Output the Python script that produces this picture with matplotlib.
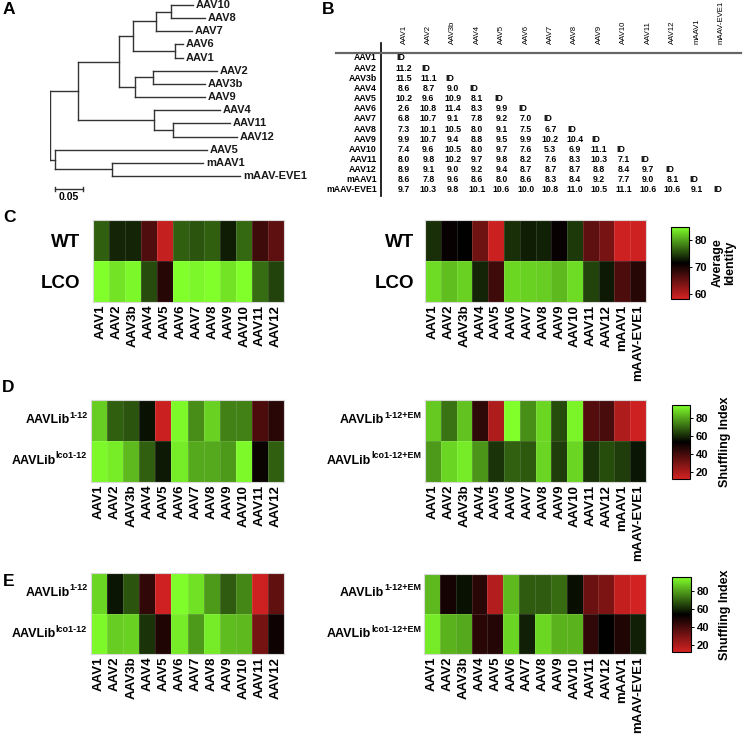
import numpy as np
import matplotlib
matplotlib.use("Agg")
import matplotlib.pyplot as plt
from matplotlib.colors import LinearSegmentedColormap

plt.rcParams['font.family'] = ['Liberation Sans', 'DejaVu Sans']

# ---------------- data ----------------
# phylogenetic tree (panel A), branch lengths
newick = ("((((((AAV10:0.039,AAV8:0.061):0.027,AAV7:0.064):0.041,"
          "(AAV6:0.014,AAV1:0.014):0.075):0.025,"
          "((AAV2:0.114,AAV3b:0.093):0.032,AAV9:0.125):0.029):0.073,"
          "(AAV4:0.118,(AAV11:0.102,AAV12:0.114):0.034):0.136):0.05,"
          "(AAV5:0.271,(mAAV1:0.163,mAAV-EVE1:0.229):0.102):0.009);")

# distance table (panel B)
table_names = ["AAV1", "AAV2", "AAV3b", "AAV4", "AAV5", "AAV6", "AAV7", "AAV8",
               "AAV9", "AAV10", "AAV11", "AAV12", "mAAV1", "mAAV-EVE1"]
dist = [
    [],
    [11.2],
    [11.5, 11.1],
    [8.6, 8.7, 9.0],
    [10.2, 9.6, 10.9, 8.1],
    [2.6, 10.8, 11.4, 8.3, 9.9],
    [6.8, 10.7, 9.1, 7.8, 9.2, 7.0],
    [7.3, 10.1, 10.5, 8.0, 9.1, 7.5, 6.7],
    [9.9, 10.7, 9.4, 8.8, 9.5, 9.9, 10.2, 10.4],
    [7.4, 9.6, 10.5, 8.0, 9.7, 7.6, 5.3, 6.9, 11.1],
    [8.0, 9.8, 10.2, 9.7, 9.8, 8.2, 7.6, 8.3, 10.3, 7.1],
    [8.9, 9.1, 9.0, 9.2, 9.4, 8.7, 8.7, 8.7, 8.8, 8.4, 9.7],
    [8.6, 7.8, 9.6, 8.6, 8.0, 8.6, 8.3, 8.4, 9.2, 7.7, 9.0, 8.1],
    [9.7, 10.3, 9.8, 10.1, 10.6, 10.0, 10.8, 11.0, 10.5, 11.1, 10.6, 10.6, 9.1],
]

serotypes12 = table_names[:12]
serotypes14 = table_names

# panel C: average identity
c_left_wt = [76.5, 73.5, 73.5, 66.5, 59.0, 76.5, 76.0, 76.5, 73.0, 77.0, 67.5, 65.5]
c_left_lco = [85.0, 83.5, 84.5, 75.5, 69.0, 85.0, 84.5, 85.0, 83.5, 85.0, 77.3, 75.0]
c_right_wt = [74.0, 71.0, 71.5, 64.5, 58.7, 74.0, 73.0, 73.2, 71.0, 74.5, 65.5, 64.0, 58.5, 58.5]
c_right_lco = [83.0, 81.6, 82.5, 73.5, 67.5, 82.8, 82.5, 82.3, 81.3, 83.0, 75.0, 72.8, 66.6, 69.0]

# panel D/E: shuffling index
d_left_1 = [86.7, 68.9, 67.2, 56.4, 14.0, 94.0, 76.3, 87.5, 74.3, 74.3, 38.6, 45.2]
d_left_2 = [94.0, 92.0, 83.4, 69.0, 57.6, 91.7, 81.0, 81.0, 78.4, 94.0, 51.5, 69.0]
d_right_1 = [86.0, 72.0, 85.0, 44.4, 19.5, 95.0, 76.7, 88.4, 66.0, 93.3, 37.0, 39.4, 19.5, 13.3]
d_right_2 = [78.4, 88.0, 91.7, 77.6, 61.8, 69.3, 68.0, 88.0, 63.5, 88.0, 61.8, 66.0, 63.5, 56.8]
e_left_1 = [88.0, 57.0, 67.2, 44.0, 13.0, 94.5, 90.0, 78.4, 68.4, 75.5, 13.5, 34.4]
e_left_2 = [94.0, 86.7, 87.5, 61.8, 47.3, 91.7, 78.4, 91.7, 84.2, 83.4, 30.7, 50.6]
e_right_1 = [83.4, 49.3, 56.4, 45.2, 18.2, 83.4, 68.4, 68.4, 71.0, 56.0, 32.7, 29.4, 15.3, 12.5]
e_right_2 = [91.7, 82.6, 81.0, 45.2, 46.5, 88.0, 58.5, 88.4, 82.6, 82.6, 44.0, 53.5, 47.3, 58.5]

# ---------------- figure ----------------
W, H = 744, 741
fig = plt.figure(figsize=(W / 100, H / 100), dpi=100)


def px_axes(left, top, width, height):
    return fig.add_axes([left / W, 1 - (top + height) / H, width / W, height / H])


ov = px_axes(0, 0, W, H)
ov.set_xlim(0, W)
ov.set_ylim(H, 0)
ov.axis('off')

cmap = LinearSegmentedColormap.from_list('rg', ['#d42222', '#000000', '#80ff2a'])

# panel letters
for letter, x, y in [("A", 3, 10), ("B", 322, 10), ("C", 3, 218), ("D", 2, 388), ("E", 3, 581)]:
    ov.text(x, y, letter, fontsize=12.5, fontweight='bold', ha='left', va='center')


# ---------------- A: tree ----------------
def parse(s, i=0):
    children = []
    name = ''
    if s[i] == '(':
        i += 1
        while True:
            child, i = parse(s, i)
            children.append(child)
            if s[i] == ',':
                i += 1
            else:
                i += 1
                break
    else:
        j = i
        while s[j] not in ':,);':
            j += 1
        name = s[i:j]
        i = j
    length = 0.0
    if s[i] == ':':
        j = i + 1
        while s[j] not in ',);':
            j += 1
        length = float(s[i + 1:j])
        i = j
    return {'name': name, 'len': length, 'children': children}, i


root, _ = parse(newick)
leaf_count = [0]


def layout(node, x0):
    node['x'] = x0 + node['len']
    if node['children']:
        for c in node['children']:
            layout(c, node['x'])
        node['y'] = (node['children'][0]['y'] + node['children'][-1]['y']) / 2
    else:
        node['y'] = leaf_count[0]
        leaf_count[0] += 1


layout(root, 0.0)

step = (176 - 5) / 13
ax_t = px_axes(50, 0, 300, 205)
ax_t.set_xlim(0, 300 / 560)
ax_t.set_ylim((205 - 5) / step, -5 / step)
ax_t.axis('off')
lc = '0.2'


def draw(node):
    if node['children']:
        ys = [c['y'] for c in node['children']]
        ax_t.plot([node['x'], node['x']], [min(ys), max(ys)], color=lc, lw=1)
        for c in node['children']:
            ax_t.plot([node['x'], c['x']], [c['y'], c['y']], color=lc, lw=1)
            draw(c)
    else:
        ax_t.text(node['x'] + 0.005, node['y'], node['name'], fontsize=8,
                  fontweight='bold', va='center', ha='left', color='0.1')


draw(root)
yb = (189 - 5) / step
ax_t.plot([0.009, 0.059], [yb, yb], color=lc, lw=1)
for xe in [0.009, 0.059]:
    ax_t.plot([xe, xe], [yb - 0.12, yb + 0.12], color=lc, lw=1)
ax_t.text(0.034, yb + 0.25, "0.05", fontsize=7.5, fontweight='bold', ha='center', va='top')

# ---------------- B: table ----------------
col_x = [404 + 24.4 * j for j in range(len(table_names))]
row_y = [58 + 10.15 * i for i in range(len(table_names))]
for j, nm in enumerate(table_names):
    ov.text(col_x[j], 44, nm, rotation=90, ha='center', va='bottom', fontsize=5.6)
for i, nm in enumerate(table_names):
    ov.text(377, row_y[i], nm, ha='right', va='center', fontsize=6.3, fontweight='bold')
    for j, v in enumerate(dist[i]):
        ov.text(col_x[j], row_y[i], f"{v:.1f}", ha='center', va='center',
                fontsize=6.3, fontweight='bold')
    ov.text(col_x[i] - 3, row_y[i], "ID", ha='center', va='center', fontsize=6.3, fontweight='bold')
ov.plot([381, 381], [43, 196], color='k', lw=1.2)
ov.plot([336, 741], [53, 53], color='0.4', lw=1.6)


# ---------------- heatmaps ----------------
def heat(box, rows, labels, vmin, vmax):
    ax = px_axes(*box)
    data = np.array(rows)
    m = ax.pcolormesh(data, cmap=cmap, vmin=vmin, vmax=vmax,
                      edgecolors=(1, 1, 1, 0.12), linewidth=0.6)
    ax.set_xlim(0, data.shape[1])
    ax.set_ylim(data.shape[0], 0)
    ax.set_xticks(np.arange(data.shape[1]) + 0.5)
    ax.set_xticklabels(labels, rotation=90, fontsize=9.5, fontweight='bold')
    ax.set_yticks([])
    ax.tick_params(length=0, pad=2)
    for s in ax.spines.values():
        s.set_color('#d8d8d8')
        s.set_linewidth(0.8)
    return ax, m


def cbar(m, box, ticks, label, ly):
    cax = px_axes(*box)
    cb = fig.colorbar(m, cax=cax, ticks=ticks)
    cb.outline.set_linewidth(0.8)
    cax.tick_params(labelsize=8, length=2, width=0.7, pad=2)
    for t in cax.get_yticklabels():
        t.set_fontweight('bold')
    ov.text(box[0] + 53, ly, label, rotation=90, ha='center', va='center',
            fontsize=9, fontweight='bold', linespacing=1.0)


# C
ax, m = heat((93, 220, 191, 82), [c_left_wt, c_left_lco], serotypes12, 58, 85)
ax.set_yticks([0.5, 1.5])
ax.set_yticklabels(["WT", "LCO"], fontsize=13.5, fontweight='bold')
ax.tick_params(axis='y', pad=9)
ax, m = heat((425, 220, 221, 82), [c_right_wt, c_right_lco], serotypes14, 58, 85)
ax.set_yticks([0.5, 1.5])
ax.set_yticklabels(["WT", "LCO"], fontsize=13.5, fontweight='bold')
ax.tick_params(axis='y', pad=8)
cbar(m, (671, 227, 18, 72), [60, 70, 80], "Average\nIdentity", 263)

# D
ax, m = heat((91, 400, 193, 82), [d_left_1, d_left_2], serotypes12, 12, 95)
ax, m = heat((425, 400, 221, 82), [d_right_1, d_right_2], serotypes14, 12, 95)
cbar(m, (672, 405, 18, 74), [20, 40, 60, 80], "Shuffling Index", 442)

# E
ax, m = heat((91, 573, 193, 81), [e_left_1, e_left_2], serotypes12, 12, 95)
ax, m = heat((424, 574, 222, 80), [e_right_1, e_right_2], serotypes14, 12, 95)
cbar(m, (672, 577, 19, 75), [20, 40, 60, 80], "Shuffling Index", 615)

# row labels with superscripts
renderer = fig.canvas.get_renderer()


def sup_label(x_right, y, base, sup):
    s = ov.text(x_right, y - 5, sup, ha='right', va='center', fontsize=6.5, fontweight='bold')
    w = s.get_window_extent(renderer).width
    ov.text(x_right - w, y, base, ha='right', va='center', fontsize=9, fontweight='bold')


for y0 in [420, 593]:
    sup_label(88, y0, "AAVLib", "1-12")
    sup_label(87, y0 + 41, "AAVLib", "lco1-12")
    sup_label(421, y0, "AAVLib", "1-12+EM")
    sup_label(421, y0 + 41, "AAVLib", "lco1-12+EM")

fig.savefig("out.png", dpi=100)
